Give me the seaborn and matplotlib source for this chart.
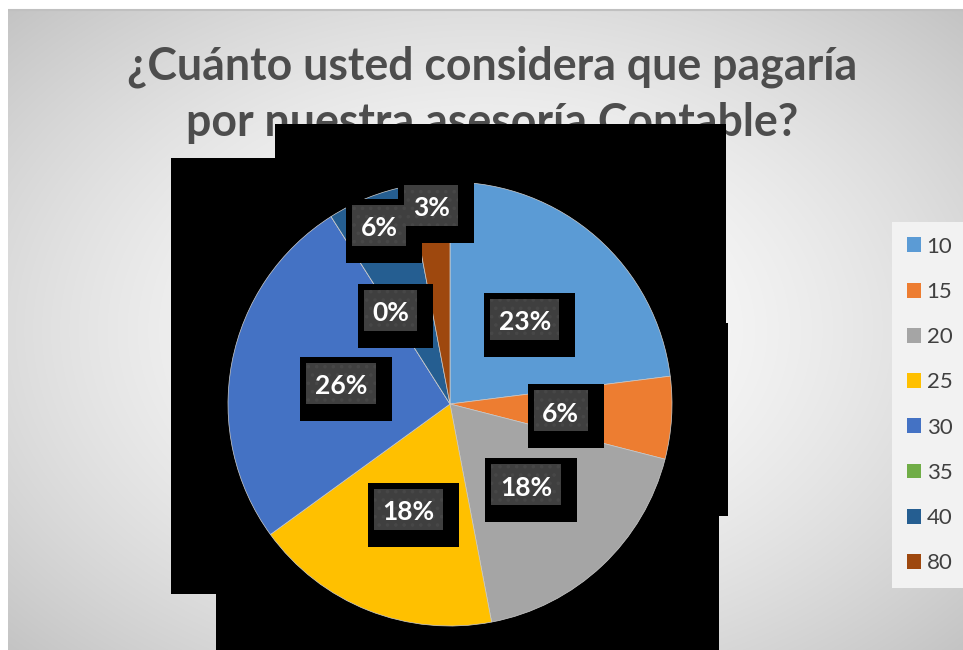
import numpy as np
import matplotlib
matplotlib.use("Agg")
import matplotlib.pyplot as plt
from matplotlib.patches import Rectangle, Polygon, Patch
import seaborn as sns

# Survey answers: amount respondents would pay, share of answers in percent
categories = ["10", "15", "20", "25", "30", "35", "40", "80"]
percentages = [23, 6, 18, 18, 26, 0, 6, 3]
title_lines = ["¿Cuánto usted considera que pagaría", "por nuestra asesoría Contable?"]

sns.set_theme(style="white")
plt.rcParams["font.family"] = ["Lato", "DejaVu Sans"]
plt.rcParams["hatch.linewidth"] = 1.4

colors = sns.color_palette(["#5B9BD5", "#ED7D31", "#A5A5A5", "#FFC000",
                            "#4472C4", "#70AD47", "#255E91", "#9E480E"])

W, H = 963, 650
fig = plt.figure(figsize=(W / 100, H / 100), dpi=100)

# ---- background layer: gradient fill, title, dark backdrop ----
bg = fig.add_axes([0, 0, 1, 1], zorder=0)
bg.set_xlim(0, W)
bg.set_ylim(H, 0)
bg.axis("off")
yy, xx = np.mgrid[0:H, 0:W]
dist = np.sqrt(((xx - 485) / 520.0) ** 2 + ((yy - 330) / 360.0) ** 2)
shade = np.clip(255 - 40 * dist ** 1.6, 0, 255) / 255.0
img = np.dstack([shade] * 3)
img[:9, :, :] = 1.0
img[:, :8, :] = 1.0
bg.imshow(img, extent=(0, W, H, 0), aspect="auto", interpolation="bilinear", zorder=0)
bg.plot([8, W], [9.5, 9.5], color="#c0c0c0", lw=1.5, zorder=1, solid_capstyle="butt")

title_color = "#4d4d4d"
t1 = bg.text(492, 79, title_lines[0], ha="center", va="baseline",
             fontsize=34, fontweight="bold", color=title_color, zorder=2)
fig.canvas.draw()
renderer = fig.canvas.get_renderer()
tw = t1.get_window_extent(renderer).width
title_size = 34 * 730.0 / tw
t1.set_fontsize(title_size)
bg.text(492, 136, title_lines[1], ha="center", va="baseline",
        fontsize=title_size, fontweight="bold", color=title_color, zorder=2)

backdrop = [(275, 124), (726, 124), (726, 323), (728, 323), (728, 516),
            (719, 516), (719, 650), (216, 650), (216, 594), (171, 594),
            (171, 158), (275, 158)]
bg.add_patch(Polygon(backdrop, closed=True, facecolor="black", edgecolor="none", zorder=3))

# ---- pie ----
ax = fig.add_axes([228 / W, (H - 626) / H, 444 / W, 444 / H], zorder=1)
wedges, _ = ax.pie(percentages, colors=colors, startangle=90, counterclock=False,
                   radius=1.0, wedgeprops=dict(edgecolor="#cfcfcf", linewidth=0.5))
ax.set_xlim(-1, 1)
ax.set_ylim(-1, 1)
ax.set_aspect("equal")
ax.axis("off")

# ---- data labels ----
ov = fig.add_axes([0, 0, 1, 1], zorder=2)
ov.set_xlim(0, W)
ov.set_ylim(H, 0)
ov.axis("off")
ov.patch.set_alpha(0)

label_dist = [0.51, 0.50, 0.50, 0.51, 0.50, 0.50, 0.865, 0.90]
total = float(sum(percentages))
cum = 0.0
fig.canvas.draw()
renderer = fig.canvas.get_renderer()
for val, rfrac in zip(percentages, label_dist):
    mid = np.deg2rad(90 - 360.0 * (cum + val / 2.0) / total)
    cum += val
    px, py = ax.transData.transform((rfrac * np.cos(mid), rfrac * np.sin(mid)))
    oy = H - py
    txt = ov.text(px, oy + 1, f"{val:.0f}%", ha="center", va="center_baseline",
                  color="white", fontsize=19, fontweight="bold", zorder=6)
    tw = txt.get_window_extent(renderer).width
    w = max(tw + 17, 50)
    h = 41
    x0, y0 = px - w / 2, oy - h / 2
    ov.add_patch(Rectangle((x0 - 6, y0 - 6), w + 22, h + 23, facecolor="black",
                           edgecolor="none", zorder=4))
    ov.add_patch(Rectangle((x0, y0), w, h, facecolor="#3f3f3f", edgecolor="#474747",
                           hatch="..", linewidth=0, zorder=5))

# ---- legend ----
handles = [Patch(facecolor=c, edgecolor="none") for c in colors]
leg = fig.legend(handles, categories, loc="upper left",
                 bbox_to_anchor=(892 / W, 1 - 222 / H), frameon=True, fancybox=False,
                 fontsize=16, labelspacing=1.135, handlelength=0.65, handleheight=0.65,
                 handletextpad=0.25, borderpad=0.66, borderaxespad=0, labelcolor="#404040")
leg.get_frame().set_facecolor("#f2f2f2")
leg.get_frame().set_edgecolor("none")
leg.get_frame().set_alpha(1)

fig.savefig("out.png", dpi=100)
